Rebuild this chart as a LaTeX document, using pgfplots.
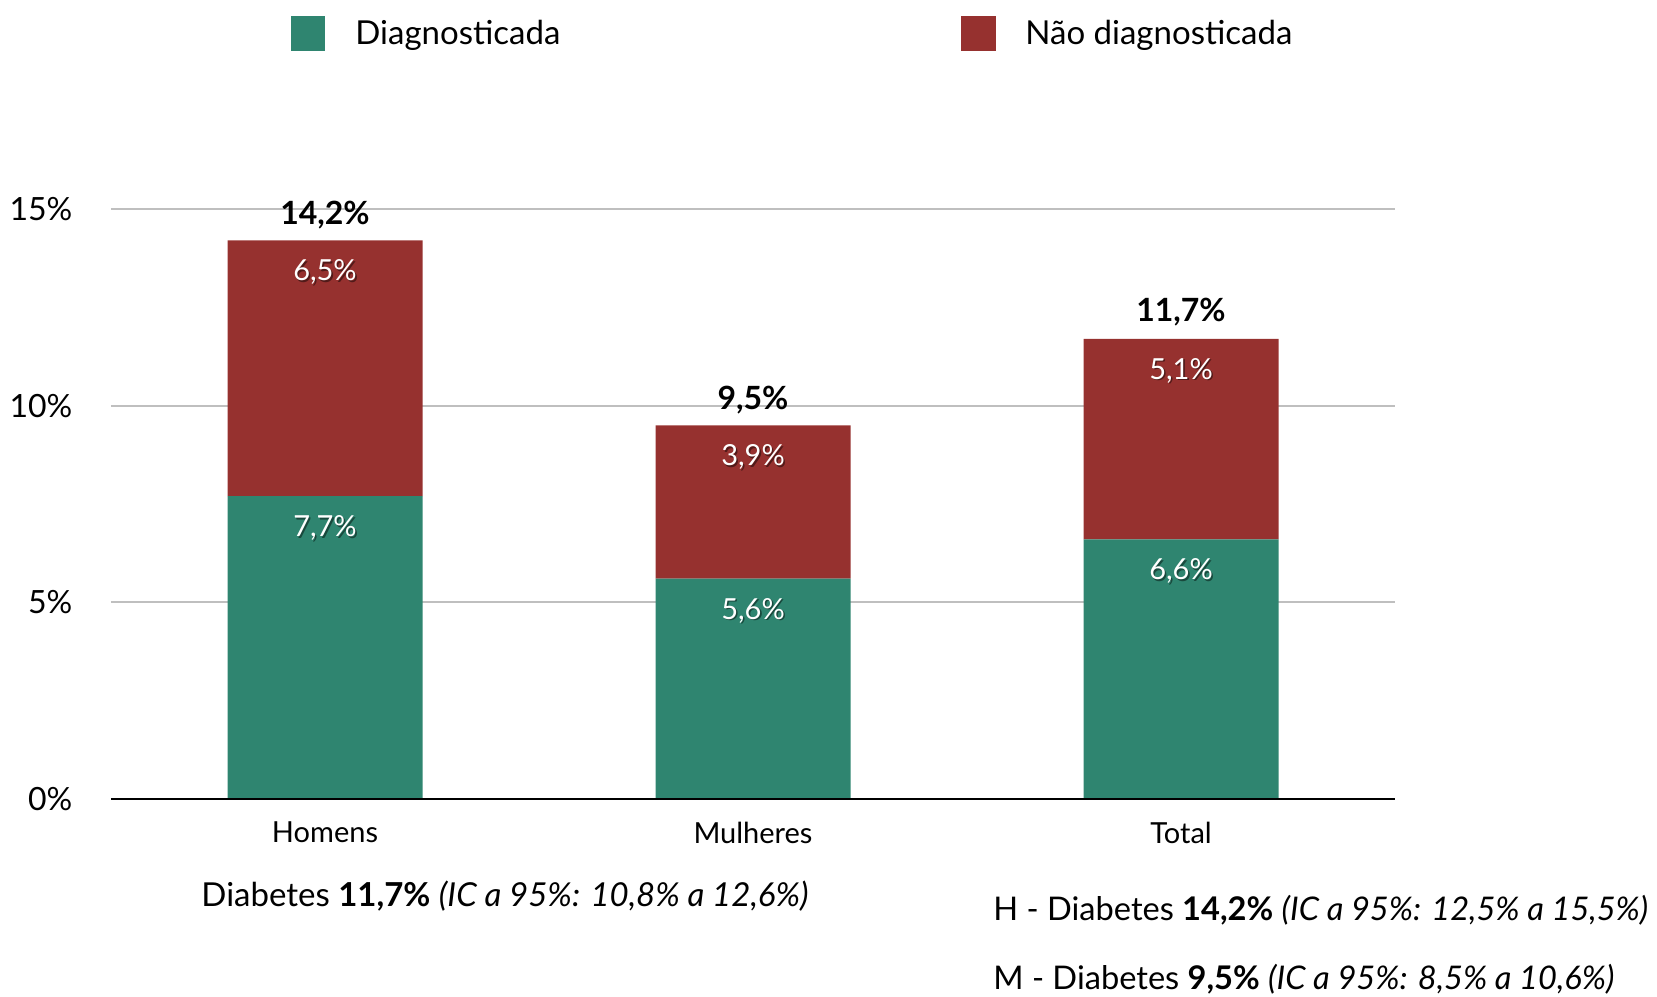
\documentclass[border=0pt]{standalone}
\usepackage{pgfplots}
\pgfplotsset{compat=1.18}
\usepackage{fontspec}
\setmainfont{Lato}
\definecolor{diag}{RGB}{47,133,112}
\definecolor{ndiag}{RGB}{150,49,47}
\newcommand{\fs}[1]{\fontsize{#1}{1.2\dimexpr#1\relax}\selectfont}
% label at the top of a stacked segment, white with a soft dark shadow
\newcommand{\seglab}[2]{%
  \node[text=black, text opacity=0.45, font=\fs{14.5pt}, xshift=0.8pt, yshift=-16.8pt] at (#1) {#2};
  \node[text=white, font=\fs{14.5pt}, yshift=-16pt] at (#1) {#2};}
\begin{document}
\begin{tikzpicture}
\useasboundingbox (-55.5pt,-98.5pt) rectangle (773pt,399.5pt);
\begin{axis}[
  at={(0,0)}, anchor=south west,
  scale only axis,
  width=642pt, height=295pt,
  ybar stacked,
  bar width=97.5pt,
  xmin=-0.5, xmax=2.5,
  ymin=0, ymax=15,
  xtick=data,
  xticklabels={Homens,Mulheres,Total},
  ytick={0,5,10,15},
  yticklabel={\pgfmathprintnumber{\tick}\%},
  /pgf/number format/assume math mode=true,
  ymajorgrids,
  grid style={line width=1pt, black!25},
  axis x line=bottom, axis y line=left,
  x axis line style={-, draw=none},
  y axis line style={draw=none},
  tick style={draw=none},
  yticklabel style={inner sep=0pt, xshift=-17pt, font=\fs{16pt}},
  xticklabel style={inner sep=0pt, yshift=-9pt, font=\fs{14.5pt}},
  clip=false,
]
\addplot[draw=none, fill=diag] coordinates {(0,7.7) (1,5.6) (2,6.6)};
\addplot[draw=none, fill=ndiag] coordinates {(0,6.5) (1,3.9) (2,5.1)};
\coordinate (a0) at (axis cs:0,7.7);
\coordinate (a1) at (axis cs:1,5.6);
\coordinate (a2) at (axis cs:2,6.6);
\coordinate (b0) at (axis cs:0,14.2);
\coordinate (b1) at (axis cs:1,9.5);
\coordinate (b2) at (axis cs:2,11.7);
\coordinate (l0) at (rel axis cs:0,0);
\coordinate (r0) at (rel axis cs:1,0);
\end{axis}
\draw[line width=1.2pt] (l0) -- (r0);
\seglab{a0}{7,7\%}
\seglab{a1}{5,6\%}
\seglab{a2}{6,6\%}
\seglab{b0}{6,5\%}
\seglab{b1}{3,9\%}
\seglab{b2}{5,1\%}
\node[font=\fs{16pt}\bfseries, yshift=12.5pt] at (b0) {14,2\%};
\node[font=\fs{16pt}\bfseries, yshift=12.5pt] at (b1) {9,5\%};
\node[font=\fs{16pt}\bfseries, yshift=13.5pt] at (b2) {11,7\%};
% legend
\fill[diag] (90pt,374pt) rectangle (107pt,391.5pt);
\node[anchor=west, inner sep=0pt, font=\fs{16.5pt}] at (122pt,382pt) {Diagnosticada};
\fill[ndiag] (425pt,374pt) rectangle (442.5pt,391.5pt);
\node[anchor=west, inner sep=0pt, font=\fs{16.5pt}] at (457pt,382pt) {Não diagnosticada};
% notes
\node[inner sep=0pt, font=\fs{16.5pt}] at (197pt,-48.5pt) {Diabetes \textbf{11,7\%} \textit{(IC a 95\%: 10,8\% a 12,6\%)}};
\node[anchor=west, inner sep=0pt, font=\fs{16.3pt}] at (441pt,-55.5pt) {H - Diabetes \textbf{14,2\%} \textit{(IC a 95\%: 12,5\% a 15,5\%)}};
\node[anchor=west, inner sep=0pt, font=\fs{16.3pt}] at (441pt,-90pt) {M - Diabetes \textbf{9,5\%} \textit{(IC a 95\%: 8,5\% a 10,6\%)}};
\end{tikzpicture}
\end{document}
